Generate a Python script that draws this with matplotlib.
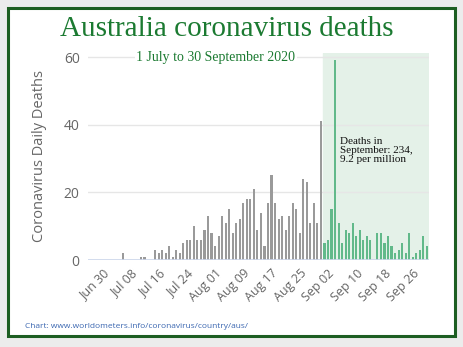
import numpy as np
import pandas as pd
import matplotlib
matplotlib.use('Agg')
import matplotlib.pyplot as plt
import matplotlib.dates as mdates
from matplotlib.patches import Rectangle

# daily deaths, Jun 30 .. Sep 30 2020
jun_jul = [0,                                   # Jun 30
           0, 0, 0, 0, 0, 2, 0, 0, 0, 0,        # Jul 1-10
           1, 1, 0, 0, 3, 2, 3, 2, 4, 1,        # Jul 11-20
           3, 2, 5, 6, 6, 10, 6, 6, 9, 13, 8]   # Jul 21-31
aug = [4, 7, 13, 11, 15, 8, 11, 12, 17, 18,
       18, 21, 9, 14, 4, 17, 25, 17, 12, 13,
       9, 13, 17, 15, 8, 24, 23, 11, 17, 11, 41]
sep = [5, 6, 15, 59, 11, 5, 9, 8, 11, 7,
       9, 6, 7, 6, 0, 8, 8, 5, 7, 4,
       2, 3, 5, 2, 8, 1, 2, 3, 7, 4]

dates = pd.date_range('2020-06-30', periods=len(jun_jul) + len(aug) + len(sep), freq='D')
deaths = jun_jul + aug + sep
tick_dates = pd.date_range('2020-06-30', '2020-09-26', freq='8D')

fig = plt.figure(figsize=(4.63, 3.47), dpi=100)
fig.patch.set_facecolor('#ececec')
# white panel with dark green frame
fig.patches.append(Rectangle((8 / 463, 11 / 347), 447 / 463, 328 / 347, transform=fig.transFigure,
                             facecolor='white', edgecolor='#1d5e22', linewidth=2.2, zorder=-5))

ax = fig.add_axes([88 / 463, 87 / 347, 341 / 463, 207 / 347])
ax.set_facecolor('none')

pre = dates < pd.Timestamp('2020-09-01')
ax.bar(dates[pre], np.array(deaths)[pre], width=0.6, color='#9a9a9a', zorder=3)
ax.bar(dates[~pre], np.array(deaths)[~pre], width=0.6, color='#62b98a', zorder=3)

x0 = pd.Timestamp('2020-06-26')
x1 = pd.Timestamp('2020-09-30 15:00')
ax.set_xlim(x0, x1)
ax.set_ylim(0, 61.2)
ax.axvspan(pd.Timestamp('2020-08-31 12:00'), x1, color='#e4f1e8', zorder=1)

ax.set_yticks([0, 20, 40, 60])
ax.grid(axis='y', color='#e6e6e6', linewidth=1, zorder=0)
ax.axhline(0, color='#ccd6eb', linewidth=1.2, zorder=4)
for s in ax.spines.values():
    s.set_visible(False)
ax.tick_params(length=0, colors='#666666', labelsize=10)
for lab in ax.get_yticklabels():
    lab.set_fontfamily('Open Sans')
ax.tick_params(axis='y', pad=6)

ax.set_xticks(tick_dates)
ax.xaxis.set_major_formatter(mdates.DateFormatter('%b %d'))
ax.tick_params(axis='x', pad=5)
for lab in ax.get_xticklabels():
    lab.set_rotation(45)
    lab.set_ha('right')
    lab.set_rotation_mode('anchor')
    lab.set_fontfamily('Open Sans')
    lab.set_fontsize(9)

ax.set_ylabel('Coronavirus Daily Deaths', fontsize=10.5, color='#666666',
              family='Open Sans', labelpad=12)

fig.text(0.49, 0.895, 'Australia coronavirus deaths', fontsize=21, color='#1b7a31',
         family='Liberation Serif', ha='center', va='baseline')
fig.text(0.466, 0.835, '1 July to 30 September 2020', fontsize=10, color='#1b7a31',
         family='Liberation Serif', ha='center', va='center', zorder=10,
         bbox=dict(facecolor='white', edgecolor='none', pad=1))

ax.text(pd.Timestamp('2020-09-05 12:00'), 36.3, 'Deaths in\nSeptember: 234,\n9.2 per million',
        fontsize=8, family='Liberation Serif', color='#111111', va='top', ha='left',
        linespacing=1.0, zorder=5)

fig.text(25 / 463, 1 - 326 / 347, 'Chart: www.worldometers.info/coronavirus/country/aus/',
         fontsize=6, color='#3a66b0', family='Open Sans', va='center')

fig.savefig('out.png', dpi=100, facecolor=fig.get_facecolor())
